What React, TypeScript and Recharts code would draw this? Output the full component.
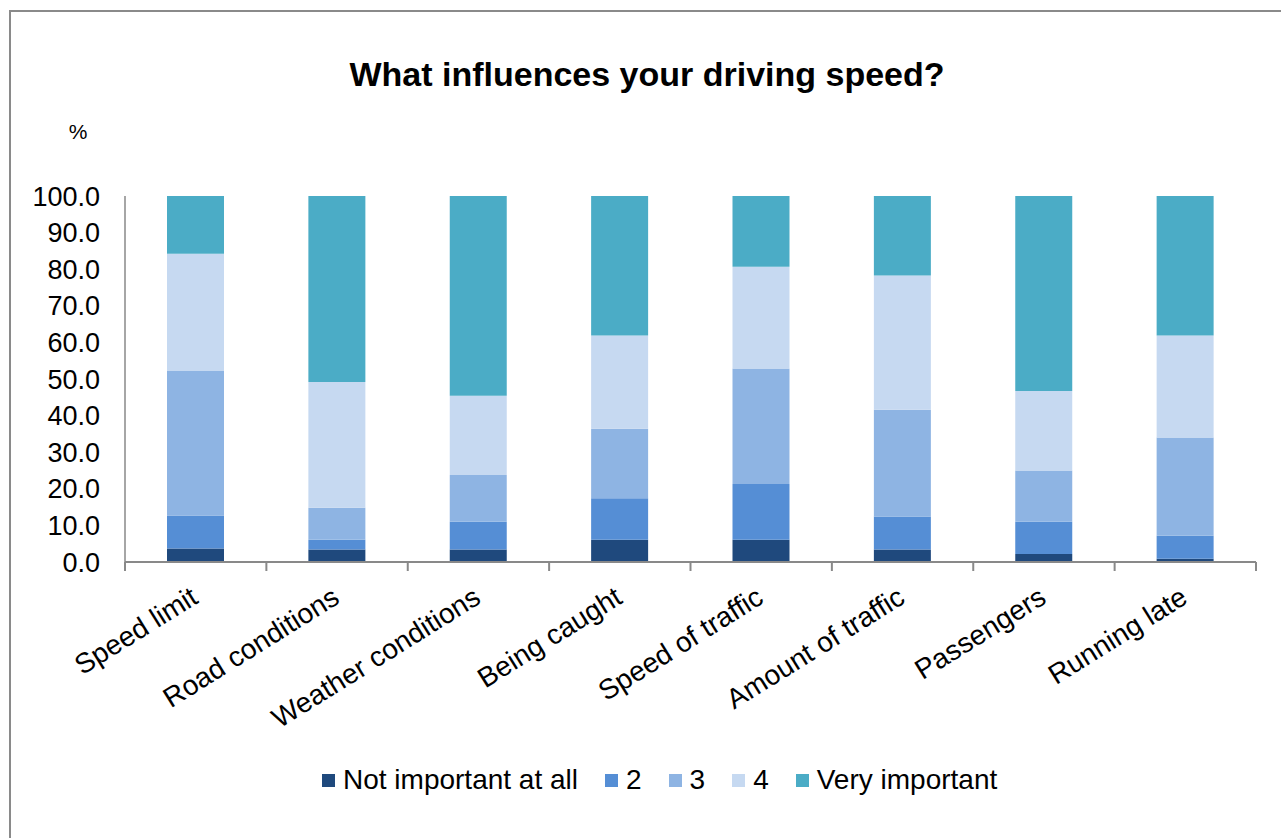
import React from "react";
import { BarChart, Bar, XAxis, YAxis, Legend } from "recharts";

const categories = [
  "Speed limit",
  "Road conditions",
  "Weather conditions",
  "Being caught",
  "Speed of traffic",
  "Amount of traffic",
  "Passengers",
  "Running late",
];

const notImportant = [3.7, 3.4, 3.4, 6.1, 6.1, 3.4, 2.2, 0.9];
const level2 = [9.0, 2.7, 7.6, 11.3, 15.2, 9.0, 8.8, 6.3];
const level3 = [39.5, 8.7, 12.8, 19.0, 31.6, 29.2, 14.0, 26.8];
const level4 = [32.0, 34.4, 21.6, 25.5, 27.8, 36.7, 21.7, 27.9];
const veryImportant = [15.8, 50.8, 54.6, 38.1, 19.3, 21.7, 53.3, 38.1];

const yTicks = [0, 10, 20, 30, 40, 50, 60, 70, 80, 90, 100];

const seriesNames = ["Not important at all", "2", "3", "4", "Very important"];
const seriesKeys = ["s1", "s2", "s3", "s4", "s5"];
const seriesColors = ["#1F497D", "#558ED5", "#8EB4E3", "#C6D9F1", "#4BACC6"];

const data = categories.map((c, i) => ({
  name: c,
  s1: notImportant[i],
  s2: level2[i],
  s3: level3[i],
  s4: level4[i],
  s5: veryImportant[i],
}));

const FONT = '"Liberation Sans", Arial, sans-serif';
const AXIS_COLOR = "#898989";

const XTick = (props: any) => {
  const { x, y, payload, index, visibleTicksCount, width } = props;
  const half =
    payload && typeof payload.offset === "number" && payload.offset > 0
      ? payload.offset
      : width / visibleTicksCount / 2;
  const ax = x + 4;
  const ay = y + 40;
  return (
    <g>
      <line x1={x - half} x2={x - half} y1={y} y2={y + 9} stroke={AXIS_COLOR} strokeWidth={2} />
      {index === visibleTicksCount - 1 && (
        <line x1={x + half} x2={x + half} y1={y} y2={y + 9} stroke={AXIS_COLOR} strokeWidth={2} />
      )}
      <text
        x={ax}
        y={ay}
        transform={`rotate(-32 ${ax} ${ay})`}
        textAnchor="end"
        fontFamily={FONT}
        fontSize={28}
        fill="#000"
      >
        {payload.value}
      </text>
    </g>
  );
};

const LegendContent = () => (
  <div
    style={{
      display: "flex",
      alignItems: "center",
      height: 34,
      fontFamily: FONT,
      fontSize: 28,
      color: "#000",
      whiteSpace: "nowrap",
    }}
  >
    {seriesNames.map((n, i) => (
      <div key={n} style={{ display: "flex", alignItems: "center", marginRight: i < seriesNames.length - 1 ? 27 : 0 }}>
        <div style={{ width: 13, height: 13, background: seriesColors[i], marginRight: 8 }} />
        <span>{n}</span>
      </div>
    ))}
  </div>
);

export default function App() {
  return (
    <div
      style={{
        position: "fixed",
        left: 0,
        top: 0,
        width: 1281,
        height: 838,
        overflow: "hidden",
        background: "#fff",
      }}
    >
      <div
        style={{
          position: "absolute",
          left: 9,
          top: 10,
          width: 1400,
          height: 1000,
          border: "2px solid #8a8a8a",
          boxSizing: "border-box",
        }}
      />
      <div
        style={{
          position: "absolute",
          left: 347,
          top: 57,
          width: 600,
          textAlign: "center",
          fontFamily: FONT,
          fontWeight: "bold",
          fontSize: 34,
          lineHeight: "34px",
          color: "#000",
          whiteSpace: "nowrap",
        }}
      >
        What influences your driving speed?
      </div>
      <div
        style={{
          position: "absolute",
          left: 58,
          top: 121,
          width: 40,
          textAlign: "center",
          fontFamily: FONT,
          fontSize: 21,
          lineHeight: "21px",
          color: "#000",
        }}
      >
        %
      </div>
      <div style={{ position: "absolute", left: 0, top: 0 }}>
        <BarChart
          width={1281}
          height={838}
          data={data}
          margin={{ top: 196, right: 25, bottom: 76, left: 25 }}
          barSize={57}
        >
          <XAxis
            dataKey="name"
            type="category"
            height={200}
            interval={0}
            tickLine={false}
            tickSize={0}
            tickMargin={0}
            axisLine={{ stroke: AXIS_COLOR, strokeWidth: 2 }}
            tick={<XTick />}
          />
          <YAxis
            type="number"
            domain={[0, 100]}
            ticks={yTicks}
            interval={0}
            width={100}
            tickLine={false}
            tickSize={0}
            tickMargin={25}
            axisLine={{ stroke: AXIS_COLOR, strokeWidth: 1.5 }}
            tickFormatter={(v: number) => v.toFixed(1)}
            tick={{ fontFamily: FONT, fontSize: 27, fill: "#000" }}
          />
          <Legend
            layout="horizontal"
            verticalAlign="middle"
            align="center"
            content={<LegendContent />}
            wrapperStyle={{ left: 322, top: 763, width: 900, height: 34 }}
          />
          {seriesKeys.map((k, i) => (
            <Bar
              key={k}
              dataKey={k}
              name={seriesNames[i]}
              stackId="a"
              fill={seriesColors[i]}
              isAnimationActive={false}
            />
          ))}
        </BarChart>
      </div>
    </div>
  );
}
